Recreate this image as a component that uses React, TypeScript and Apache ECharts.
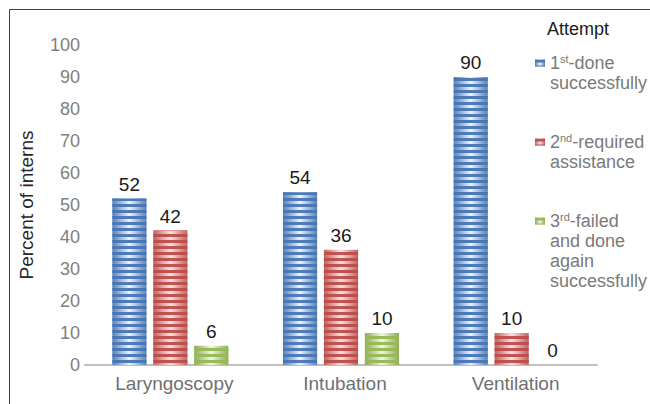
import React, { useEffect, useRef } from 'react';
import * as echarts from 'echarts';

const categories = ['Laryngoscopy', 'Intubation', 'Ventilation'];
const firstAttempt = [52, 54, 90];
const secondAttempt = [42, 36, 10];
const thirdAttempt = [6, 10, 0];
const seriesNames = [
  '1st-done successfully',
  '2nd-required assistance',
  '3rd-failed and done again successfully',
];
const legendLines = [
  ['{n|1}{s|st}{n|-done}', '{n|successfully}'],
  ['{n|2}{s|nd}{n|-required}', '{n|assistance}'],
  ['{n|3}{s|rd}{n|-failed}', '{n|and done}', '{n|again}', '{n|successfully}'],
];
const legendTitle = 'Attempt';
const yAxisTitle = 'Percent of interns';
const yMin = 0;
const yMax = 100;
const yInterval = 10;

const FONT = '"Liberation Sans", Arial, Helvetica, sans-serif';
const palette = [
  { edge: '#5a80b3', light: '#eef3fa', stripe: 'rgba(70,118,182,0.95)' },
  { edge: '#b86462', light: '#f8e3e2', stripe: 'rgba(190,76,73,0.95)' },
  { edge: '#8eaa5c', light: '#f1f6e4', stripe: 'rgba(150,184,82,0.95)' },
];
const LINE_H = 20;
const legendFirstLineY = [64, 143, 222];

export default function App() {
  const ref = useRef<HTMLDivElement>(null);
  useEffect(() => {
    if (!ref.current) return;
    const chart = echarts.init(ref.current, undefined, { renderer: 'svg' });
    const dataSets = [firstAttempt, secondAttempt, thirdAttempt];

    const series = dataSets.map((d, i) => ({
      name: seriesNames[i],
      type: 'bar',
      data: d,
      barGap: '20%',
      barCategoryGap: '32%',
      itemStyle: {
        color: new echarts.graphic.LinearGradient(0, 0, 1, 0, [
          { offset: 0, color: palette[i].edge },
          { offset: 0.5, color: palette[i].light },
          { offset: 1, color: palette[i].edge },
        ]),
        decal: {
          symbol: 'rect',
          symbolSize: 1,
          color: palette[i].stripe,
          dashArrayX: [1, 0],
          dashArrayY: [2.5, 2.5],
          rotation: 0,
        },
      },
      label: {
        show: true,
        position: 'top',
        distance: 5,
        fontSize: 19,
        fontFamily: FONT,
        color: '#1a1a1a',
      },
    }));

    const legends = legendLines.map((lines, i) => {
      const blanks = lines.length - 1;
      const all = [...Array(blanks).fill('{n| }'), ...lines];
      const top = legendFirstLineY[i] - (all.length / 2) * LINE_H;
      return {
        show: true,
        data: [{ name: seriesNames[i], icon: 'rect' }],
        orient: 'vertical',
        left: 535,
        top,
        padding: 0,
        itemWidth: 10,
        itemHeight: 7,
        itemGap: 0,
        selectedMode: false,
        formatter: () => all.join('\n'),
        textStyle: {
          color: '#7a7a7a',
          fontFamily: FONT,
          fontSize: 18,
          rich: {
            n: { fontSize: 18, lineHeight: LINE_H, color: '#7a7a7a', fontFamily: FONT },
            s: {
              fontSize: 11,
              lineHeight: 11,
              color: '#7a7a7a',
              fontFamily: FONT,
              verticalAlign: 'top',
              padding: [0, 0, 7, 0],
            },
          },
        },
      };
    });

    chart.setOption({
      animation: false,
      backgroundColor: '#ffffff',
      title: {
        text: legendTitle,
        left: 547,
        top: 20,
        padding: 0,
        textStyle: { fontSize: 18, fontWeight: 'normal', color: '#1a1a1a', fontFamily: FONT },
      },
      legend: legends,
      grid: { left: 85, right: 53, top: 45, bottom: 39, containLabel: false },
      xAxis: {
        type: 'category',
        data: categories,
        axisLine: { show: true, lineStyle: { color: '#c0c0c0', width: 2 } },
        axisTick: { show: false },
        axisLabel: {
          margin: 9,
          fontSize: 19,
          color: '#707070',
          fontFamily: FONT,
          padding: [0, 0, 0, 8],
        },
        splitLine: { show: false },
      },
      yAxis: {
        type: 'value',
        min: yMin,
        max: yMax,
        interval: yInterval,
        name: yAxisTitle,
        nameLocation: 'middle',
        nameGap: 49,
        nameRotate: 90,
        nameTextStyle: {
          fontSize: 19,
          color: '#262626',
          fontFamily: FONT,
        },
        axisLine: { show: false },
        axisTick: { show: false },
        axisLabel: { margin: 5, fontSize: 18, color: '#808080', fontFamily: FONT },
        splitLine: { show: false },
      },
      graphic: [
        {
          type: 'rect',
          silent: true,
          z: -10,
          shape: { x: 9.5, y: 9.5, width: 700, height: 500 },
          style: { fill: 'none', stroke: '#404040', lineWidth: 1 },
        },
      ],
      series,
    });
    return () => chart.dispose();
  }, []);
  return (
    <div
      ref={ref}
      style={{ position: 'absolute', left: 0, top: 0, width: 650, height: 404 }}
    />
  );
}
